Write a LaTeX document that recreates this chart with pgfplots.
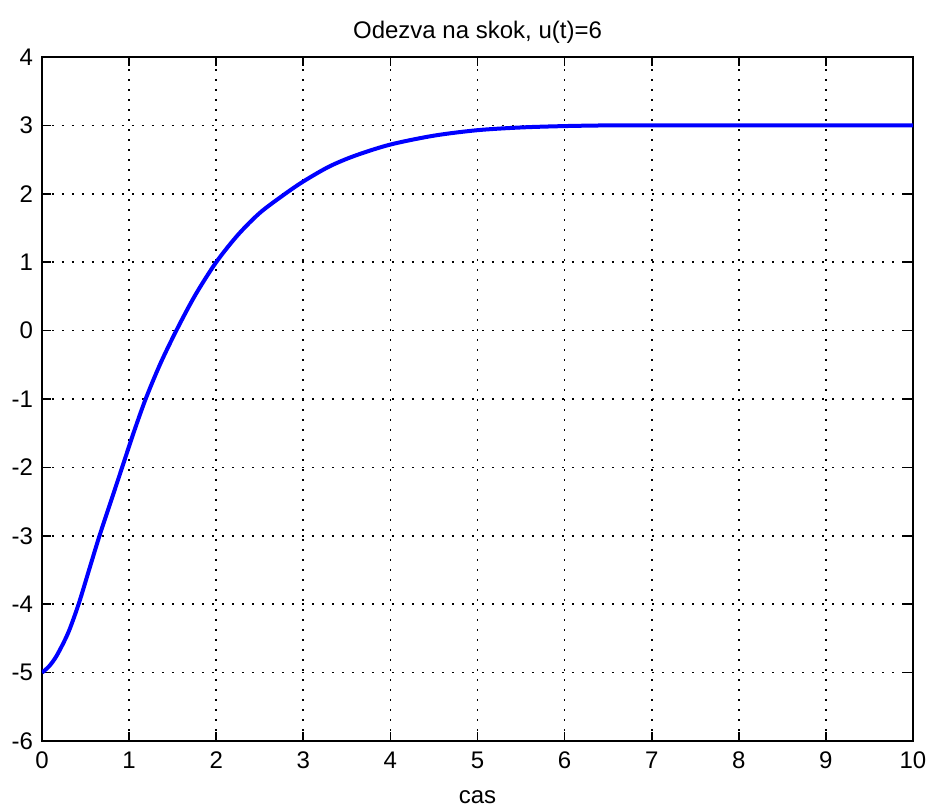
\documentclass[border=0pt]{standalone}
\usepackage{fontspec}
\setmainfont{Liberation Sans}
\usepackage{pgfplots}
\pgfplotsset{compat=1.18}
\begin{document}
\begin{tikzpicture}
\begin{axis}[
  name=ax,
  scale only axis,
  width=435.5pt, height=342pt,
  xmin=0, xmax=10, ymin=-6, ymax=4,
  xtick={0,1,...,10}, ytick={-6,-5,...,4},
  tick align=inside,
  major tick length=4.5pt,
  tick style={black, line width=0.8pt},
  axis line style={black, line width=1pt},
  grid=major,
  major grid style={black, line width=0.8pt, dash pattern=on 0.8pt off 4.2pt},
  /pgf/number format/assume math mode=true,
  ticklabel style={font=\fontsize{12}{14}\selectfont},
  xticklabel style={yshift=-2pt},
  yticklabel style={xshift=-1pt},
  title={Odezva na skok, u(t)=6},
  title style={font=\fontsize{12}{14}\selectfont, yshift=-3pt},
  xlabel={cas},
  xlabel style={font=\fontsize{12}{14}\selectfont, yshift=-4pt},
]
\addplot[blue, line width=2pt, smooth, tension=0.5] coordinates {
(0,-5) (0.08,-4.91) (0.17,-4.75) (0.30,-4.42) (0.42,-4.0) (0.54,-3.5)
(0.66,-3.0) (0.79,-2.5) (0.92,-2.0) (1.05,-1.5) (1.19,-1.0) (1.36,-0.48)
(1.55,0.02) (1.76,0.52) (2.0,1.0) (2.25,1.4) (2.5,1.72) (2.77,1.98)
(3.0,2.18) (3.3,2.4) (3.6,2.56) (4.0,2.72) (4.5,2.85) (5.0,2.93)
(5.5,2.97) (6.0,2.99) (6.5,3.0) (7,3.0) (8,3.0) (9,3.0) (10,3.0)
};
\end{axis}
\pgfresetboundingbox
\path (ax.south west) ++(-21pt,-33pt) coordinate (bl);
\path (ax.north east) ++(7.5pt,28.5pt) coordinate (tr);
\path[use as bounding box] (bl) rectangle (tr);
\end{tikzpicture}
\end{document}
